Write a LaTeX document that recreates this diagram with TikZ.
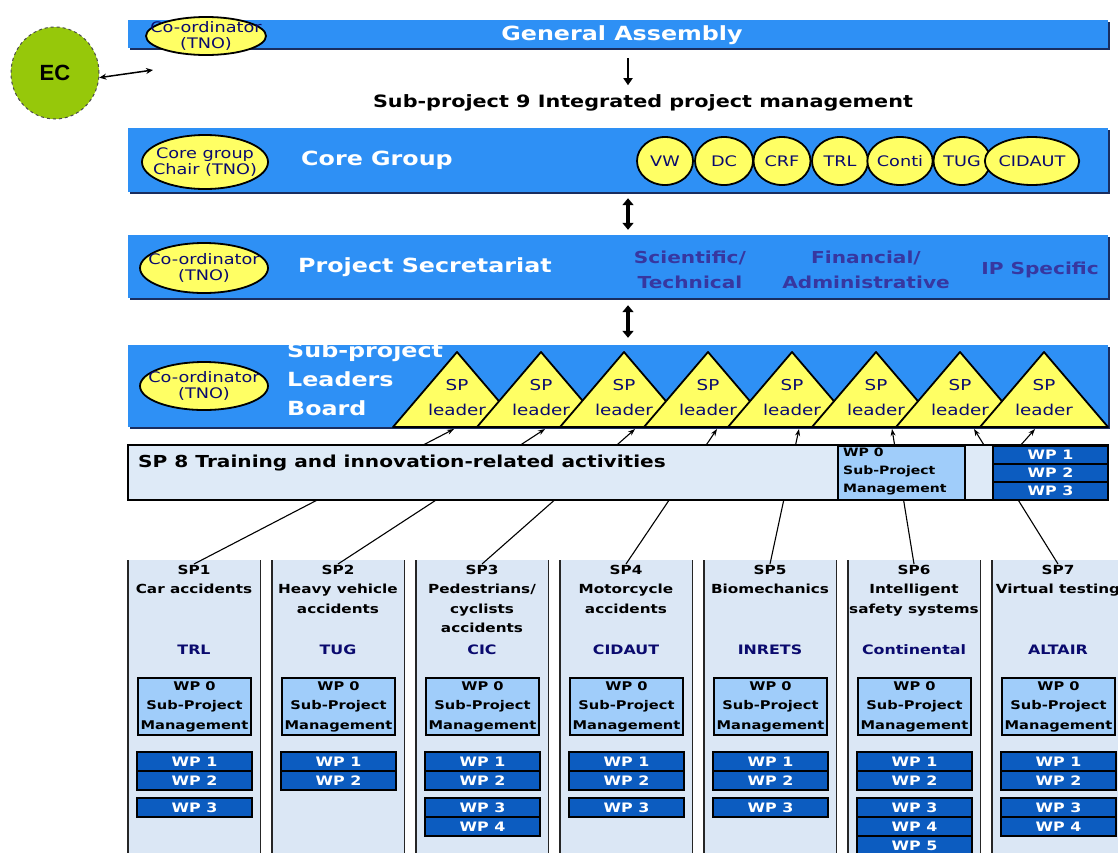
\documentclass[tikz,border=0pt]{standalone}
\usepackage{fontspec}
\setmainfont{DejaVu Sans}
\newfontfamily\wf[FakeStretch=1.22]{DejaVu Sans}
\newfontfamily\ars{Liberation Sans}
\usetikzlibrary{shapes.geometric,arrows.meta,shadows}
\definecolor{barblue}{RGB}{46,144,245}
\definecolor{barshadow}{RGB}{25,45,95}
\definecolor{ylw}{RGB}{255,255,100}
\definecolor{navy}{RGB}{10,10,110}
\definecolor{purpnavy}{RGB}{55,55,160}
\definecolor{ecgreen}{RGB}{150,200,10}
\definecolor{colbg}{RGB}{219,231,245}
\definecolor{wpzero}{RGB}{160,205,250}
\definecolor{wpdark}{RGB}{12,92,192}
\definecolor{sptbg}{RGB}{222,234,247}
\tikzset{
 bar/.style={rectangle, fill=barblue, draw=none, inner sep=0pt, minimum width=980,
   drop shadow={shadow xshift=1.5pt, shadow yshift=-2pt, fill=barshadow, opacity=1}},
 coord/.style={ellipse, draw=black, line width=1.8pt, fill=ylw, inner xsep=-20pt, inner ysep=-10pt, align=center,
   text=navy, font=\wf\fontsize{14.5}{15.5}\selectfont},
 mem/.style={ellipse, draw=black, line width=1.8pt, fill=ylw, inner sep=0pt, minimum height=48,
   text=navy, font=\wf\fontsize{14.5}{15}\selectfont},
 title/.style={text=white, inner sep=0pt, font=\wf\bfseries\fontsize{19.5}{29}\selectfont},
 subt/.style={text=purpnavy, align=center, inner sep=0pt, font=\wf\bfseries\fontsize{16.5}{25}\selectfont},
 tri/.style={fill=ylw, draw=black, line width=1.8pt, line join=round},
 trit/.style={text=navy, align=center, inner sep=0pt, font=\wf\fontsize{15}{25}\selectfont},
 colbox/.style={rectangle, fill=colbg, draw=none, anchor=north west, minimum width=132, minimum height=300, inner sep=0pt},
 colline/.style={line width=1.6pt, black!85},
 colhead/.style={anchor=north, align=center, inner sep=1pt, font=\wf\bfseries\fontsize{12.5}{19.5}\selectfont},
 leadname/.style={text=navy, inner sep=0pt, font=\wf\bfseries\fontsize{13}{15}\selectfont},
 wpz/.style={rectangle, fill=wpzero, draw=black, line width=1.2pt, minimum width=113, minimum height=57,
   inner sep=0pt, align=center, font=\wf\bfseries\fontsize{12}{19.5}\selectfont},
 wpd/.style={rectangle, fill=wpdark, draw=black, line width=1.2pt, minimum width=115, minimum height=19,
   inner sep=0pt, text=white, font=\wf\bfseries\fontsize{13}{14}\selectfont},
 conn/.style={line width=1.1pt, -{Stealth[length=7pt,width=5pt]}},
 dbl/.style={line width=3.5pt, {Triangle[length=7pt,width=11pt]}-{Triangle[length=7pt,width=11pt]}},
}
\begin{document}
\begin{tikzpicture}[x=1pt,y=-1pt]
\useasboundingbox (0,0) rectangle (1118,852);
\clip (0,0) rectangle (1118,852);
% EC
\node[ellipse, fill=ecgreen, draw=black!70, dashed, line width=1pt, minimum width=88, minimum height=92,
  font=\ars\bfseries\fontsize{22}{22}\selectfont] (ec) at (55,73) {EC};
\coordinate (ecR) at (153,70);
\draw[line width=1.5pt, {Stealth[length=7pt,width=6pt]}-{Stealth[length=7pt,width=6pt]}] (ec.-6) -- (ecR);
% General assembly
\node[bar, minimum height=28] (ga) at (618,34) {};
\node[title] (gat) at (622,35) {General Assembly};
\node[coord, minimum width=120, minimum height=38] (gac) at (206,36) {Co-ordinator\\(TNO)};
\node[inner sep=0pt, font=\wf\bfseries\fontsize{17}{20}\selectfont] (sp9) at (643,103) {Sub-project 9 Integrated project management};
\draw[line width=2pt, -{Triangle[length=7pt,width=9pt]}] ([xshift=10pt,yshift=-10pt]ga.south) -- ++(0,27);
% Core group
\node[bar, minimum height=64] (core) at (618,160) {};
\node[coord, minimum width=126, minimum height=54] (cgc) at (205,162) {Core group\\Chair (TNO)};
\node[title] (cgt) at (377,160) {Core Group};
\node[mem, minimum width=56] (vw) at (665,161) {VW};
\node[mem, minimum width=58] (dc) at (724,161) {DC};
\node[mem, minimum width=57] (crf) at (782,161) {CRF};
\node[mem, minimum width=56] (trl) at (840,161) {TRL};
\node[mem, minimum width=65] (conti) at (900,161) {Conti};
\node[mem, minimum width=57] (tug) at (962,161) {TUG};
\node[mem, minimum width=85] (cid) at (1032,161) {CIDAUT};
% Secretariat
\node[bar, minimum height=63] (sec) at (618,266.5) {};
\node[coord, minimum width=128, minimum height=50] (sc) at (204,268) {Co-ordinator\\(TNO)};
\node[title, anchor=west] (sect) at (298,267) {Project Secretariat};
\node[subt] (st) at (690,270) {Scientific/\\Technical};
\node[subt] (fa) at (866,270) {Financial/\\Administrative};
\node[subt] (ip) at (1040,270) {IP Specific};
\draw[dbl] ([xshift=10pt,yshift=-6pt]core.south) -- ([xshift=10pt,yshift=5pt]sec.north);
% SP leaders board
\node[bar, minimum height=82] (board) at (618,386) {};
\draw[dbl] ([xshift=10pt,yshift=-7pt]sec.south) -- ([xshift=10pt,yshift=7pt]board.north);
\node[coord, minimum width=128, minimum height=48] (bc) at (204,386) {Co-ordinator\\(TNO)};
\node[title, anchor=north west, align=left] (bt) at (287,342) {Sub-project\\Leaders\\Board};
\foreach \i/\x in {1/457,2/541,3/624,4/708,5/792,6/876,7/960,8/1044}{
  \filldraw[tri] (\x-64,427) -- (\x,352) -- (\x+64,427) -- cycle;
  \node[trit] (L\i) at (\x,398) {SP\\leader};
}
\foreach \i/\t in {1/454,2/545,3/635,4/717,5/799,6/892,7/974,8/1035}{
  \coordinate (tip\i) at (\t,429);
}
% columns
\foreach \k/\L/\hd/\ld/\n in {
  1/128/{SP1\\Car accidents}/TRL/3,
  2/272/{SP2\\Heavy vehicle\\accidents}/TUG/2,
  3/416/{SP3\\Pedestrians/\\cyclists\\accidents}/CIC/4,
  4/560/{SP4\\Motorcycle\\accidents}/CIDAUT/3,
  5/704/{SP5\\Biomechanics}/INRETS/3,
  6/848/{SP6\\Intelligent\\safety systems}/Continental/5,
  7/992/{SP7\\Virtual testing}/ALTAIR/4}{
  \node[colbox] (col\k) at (\L,560) {};
  \draw[colline] (col\k.north west) -- (col\k.south west) (col\k.north east) -- (col\k.south east);
  \node[colhead] (h\k) at (\L+66,564) {\hd};
  \node[leadname] (ln\k) at (\L+66,650) {\ld};
  \node[wpz] (wz\k) at (\L+66.5,706.5) {WP 0\\Sub-Project\\Management};
  \foreach \j in {1,...,\n}{
    \node[wpd] (wp\k-\j) at (\L+66.5,{742.5+19*\j+(\j>2)*8}) {WP \j};
  }
}
\foreach \k in {1,...,7}{
  \draw[conn] (h\k.north) -- (tip\k);
}
% SP8
\node[rectangle, fill=sptbg, draw=black, line width=1.5pt, minimum width=980, minimum height=55, inner sep=0pt] (sp8) at (618,472.5) {};
\node[anchor=west, inner sep=0pt, font=\wf\bfseries\fontsize{16.5}{20}\selectfont] (sp8t) at (138,463) {SP 8 Training and innovation-related activities};
\node[rectangle, fill=wpzero, draw=black, line width=1.2pt, minimum width=127, minimum height=54, inner sep=0pt] (sp8w0) at (901.5,473) {};
\node[anchor=north west, align=left, inner sep=0pt, font=\wf\bfseries\fontsize{11.5}{18}\selectfont] (sp8w0t) at (843,448) {WP 0\\Sub-Project\\Management};
\node[wpd, minimum width=115, minimum height=18] (s8w1) at (1050.5,455) {WP 1};
\node[wpd, minimum width=115, minimum height=18] (s8w2) at (1050.5,473) {WP 2};
\node[wpd, minimum width=115, minimum height=18] (s8w3) at (1050.5,491) {WP 3};
\draw[conn] ([xshift=-30pt]s8w1.north) -- (tip8);
\end{tikzpicture}
\end{document}
